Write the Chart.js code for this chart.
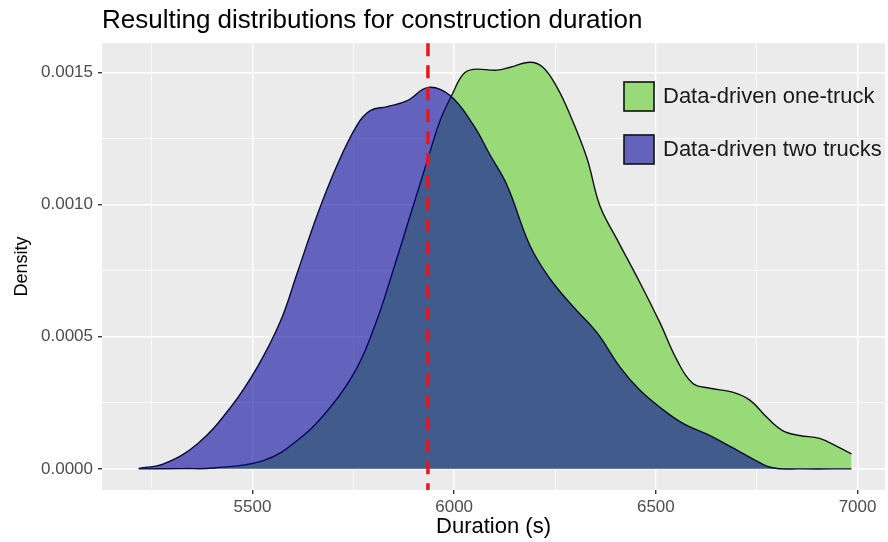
<!DOCTYPE html>
<html>
<head>
<meta charset="utf-8">
<script src="https://cdn.jsdelivr.net/npm/chart.js@4/dist/chart.umd.min.js"></script>
<style>
  html, body { margin: 0; padding: 0; background: #fff; }
  #wrap { width: 888px; height: 542px; }
</style>
</head>
<body>
<div id="wrap"><canvas id="myChart" width="888" height="542"></canvas></div>
<script>
// data
const seriesNames = ['Data-driven one-truck', 'Data-driven two trucks'];

const oneTruckX = [5218, 5330, 5403, 5527, 5611, 5693, 5760, 5809, 5842, 5891, 5933, 5965, 5995, 6022, 6047,
  6106, 6139, 6188, 6220, 6255, 6287, 6329, 6361, 6403, 6460, 6510, 6552, 6591, 6634, 6690, 6733, 6775,
  6814, 6856, 6906, 6955, 6985];
const oneTruckY = [0.0, 0.000001, 0.000003, 0.000031, 0.000107, 0.000233, 0.000385, 0.000565, 0.000718,
  0.000958, 0.001164, 0.001317, 0.001416, 0.001492, 0.001511, 0.001508, 0.001519, 0.001538, 0.001519,
  0.001443, 0.00134, 0.001176, 0.000996, 0.00087, 0.000706, 0.000553, 0.000412, 0.000324, 0.000305,
  0.00029, 0.00026, 0.000195, 0.000145, 0.000126, 0.000115, 0.00008, 0.000057];

const twoTrucksX = [5218, 5280, 5364, 5446, 5512, 5569, 5611, 5661, 5710, 5760, 5792, 5834, 5884, 5936,
  5990, 6047, 6089, 6131, 6188, 6238, 6294, 6354, 6411, 6460, 6510, 6567, 6634, 6690, 6740, 6789, 6856, 6985];
const twoTrucksY = [0.000002, 0.000019, 0.000095, 0.000233, 0.000385, 0.000557, 0.000741, 0.000962,
  0.001149, 0.001302, 0.001355, 0.00137, 0.001393, 0.001443, 0.001412, 0.001302, 0.001187, 0.001073,
  0.000844, 0.000718, 0.000615, 0.000515, 0.000385, 0.000298, 0.000233, 0.000172, 0.000126, 0.00008,
  0.000038, 0.000004, 0.0, 0.0];

const xTicks = [5500, 6000, 6500, 7000];
const xMinor = [5250, 5750, 6250, 6750];
const yTicks = [0.0000, 0.0005, 0.0010, 0.0015];
const yMinor = [0.00025, 0.00075, 0.00125];
const vline = 5935;

const fillColors = ['rgb(152,217,120)', 'rgba(0,0,155,0.58)'];
const font = '"Liberation Sans", Arial, sans-serif';

function pts(xs, ys) {
  return xs.map((x, i) => ({ x: x, y: ys[i] }));
}
function isMajor(v, list) {
  return list.some(t => Math.abs(t - v) < 1e-9);
}
function setTicks(major, minor) {
  return s => {
    s.ticks = major.concat(minor).sort((a, b) => a - b).map(v => ({ value: v }));
  };
}

const panelBg = {
  id: 'panelBg',
  beforeDraw(chart) {
    const { ctx, chartArea: a } = chart;
    ctx.save();
    ctx.fillStyle = '#ebebeb';
    ctx.fillRect(a.left, a.top, a.right - a.left, a.bottom - a.top);
    ctx.restore();
  }
};

const redLine = {
  id: 'redLine',
  afterDatasetsDraw(chart) {
    const { ctx, chartArea: a } = chart;
    const px = chart.scales.x.getPixelForValue(vline);
    ctx.save();
    ctx.strokeStyle = 'rgb(232,22,30)';
    ctx.lineWidth = 3.5;
    ctx.setLineDash([13, 9]);
    ctx.beginPath();
    ctx.moveTo(px, a.top);
    ctx.lineTo(px, a.bottom);
    ctx.stroke();
    ctx.restore();
  }
};

const boxLegend = {
  id: 'boxLegend',
  afterDraw(chart) {
    const ctx = chart.ctx;
    const left = 624, tops = [82, 135];
    ctx.save();
    seriesNames.forEach((name, i) => {
      ctx.fillStyle = '#ebebeb';
      ctx.fillRect(left, tops[i], 30, 29);
      ctx.fillStyle = fillColors[i];
      ctx.fillRect(left, tops[i], 30, 29);
      ctx.strokeStyle = '#111';
      ctx.lineWidth = 1.6;
      ctx.strokeRect(left, tops[i], 30, 29);
      ctx.fillStyle = '#1a1a1a';
      ctx.font = '22px ' + font;
      ctx.textBaseline = 'middle';
      ctx.fillText(name, left + 39, tops[i] + 15);
    });
    ctx.restore();
  }
};

const ctx = document.getElementById('myChart').getContext('2d');
const myChart = new Chart(ctx, {
  type: 'line',
  data: {
    datasets: [{
      label: seriesNames[0],
      data: pts(oneTruckX, oneTruckY),
      backgroundColor: fillColors[0],
      borderColor: '#111',
      borderWidth: 1.4,
      fill: 'origin',
      pointRadius: 0,
      tension: 0.4,
      order: 1
    }, {
      label: seriesNames[1],
      data: pts(twoTrucksX, twoTrucksY),
      backgroundColor: fillColors[1],
      borderColor: '#0a0a30',
      borderWidth: 1.4,
      fill: 'origin',
      pointRadius: 0,
      tension: 0.4,
      order: 0
    }]
  },
  options: {
    responsive: false,
    animation: false,
    layout: { padding: { left: 0, right: 3, top: 0, bottom: 0 } },
    plugins: {
      legend: { display: false },
      tooltip: { enabled: false },
      title: {
        display: true,
        text: 'Resulting distributions for construction duration',
        align: 'start',
        fullSize: false,
        color: '#000',
        font: { family: font, size: 26, weight: 'normal' },
        padding: { top: 5, bottom: 7 }
      }
    },
    scales: {
      x: {
        type: 'linear',
        min: 5127,
        max: 7068,
        afterBuildTicks: setTicks(xTicks, xMinor),
        afterFit(s) { s.height = 52; },
        border: { display: false },
        grid: {
          color: '#ffffff',
          lineWidth: c => isMajor(c.tick.value, xTicks) ? 1.4 : 0.7,
          tickColor: c => isMajor(c.tick.value, xTicks) ? '#333' : 'rgba(0,0,0,0)',
          tickLength: 4
        },
        ticks: {
          autoSkip: false,
          maxRotation: 0,
          padding: 3,
          color: '#4d4d4d',
          font: { family: font, size: 17 },
          callback: v => isMajor(v, xTicks) ? String(v) : ''
        },
        title: {
          display: true,
          text: 'Duration (s)',
          color: '#000',
          font: { family: font, size: 22 },
          padding: { top: 0, bottom: 2 }
        }
      },
      y: {
        type: 'linear',
        min: -0.00008,
        max: 0.00161,
        afterBuildTicks: setTicks(yTicks, yMinor),
        afterFit(s) { s.width = 102; },
        border: { display: false },
        grid: {
          color: '#ffffff',
          lineWidth: c => isMajor(c.tick.value, yTicks) ? 1.4 : 0.7,
          tickColor: c => isMajor(c.tick.value, yTicks) ? '#333' : 'rgba(0,0,0,0)',
          tickLength: 4
        },
        ticks: {
          autoSkip: false,
          padding: 5,
          color: '#4d4d4d',
          font: { family: font, size: 17 },
          callback: v => isMajor(v, yTicks) ? v.toFixed(4) : ''
        },
        title: {
          display: true,
          text: 'Density',
          color: '#000',
          font: { family: font, size: 18 },
          padding: { top: 11, bottom: 0 }
        }
      }
    }
  },
  plugins: [panelBg, redLine, boxLegend]
});
</script>
</body>
</html>
